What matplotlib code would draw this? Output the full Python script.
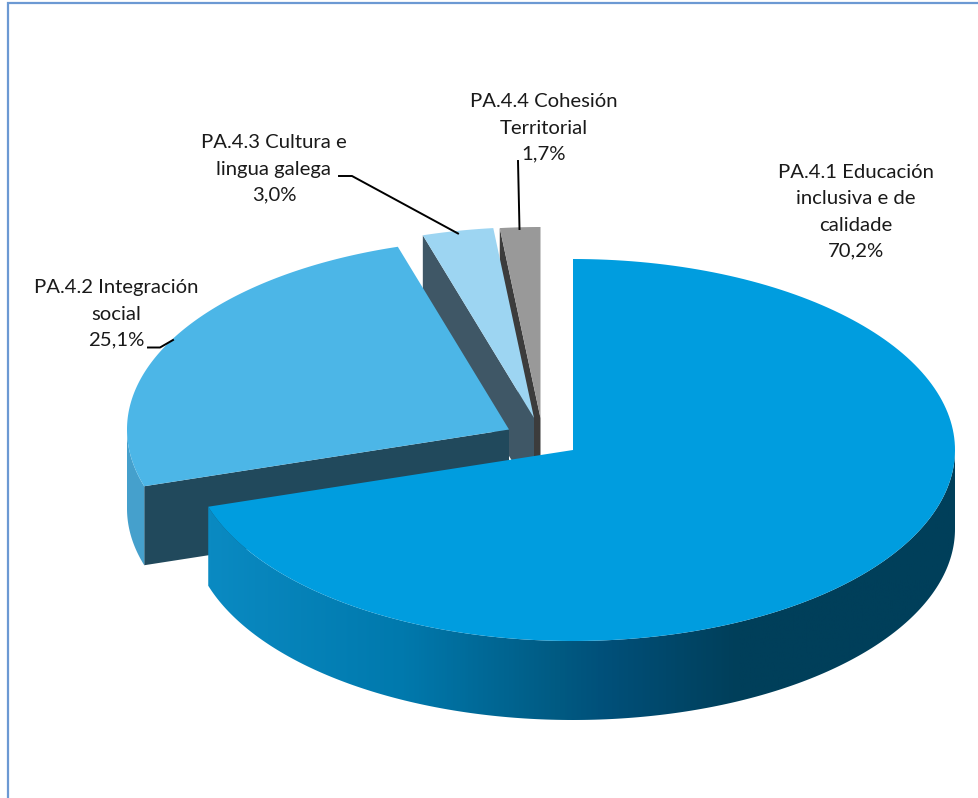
import matplotlib
matplotlib.use('Agg')
import matplotlib.pyplot as plt
import numpy as np
from matplotlib.colors import LinearSegmentedColormap
from matplotlib.patches import Polygon

plt.rcParams['font.family'] = ['Lato', 'DejaVu Sans']

# datos
names = ['PA.4.1 Educación\ninclusiva e de\ncalidade', 'PA.4.2 Integración\nsocial',
         'PA.4.3 Cultura e\nlingua galega', 'PA.4.4 Cohesión\nTerritorial']
values = [70.2, 25.1, 3.0, 1.7]
pct_labels = ['70,2%', '25,1%', '3,0%', '1,7%']

# estilo
top_colors = ['#009ddf', '#4cb6e7', '#9dd5f2', '#999999']
face_colors = ['#0a88c0', '#21495c', '#3f5766', '#3c3c3c']
apex_x = [573, 509, 534, 540.5]
apex_y = [450, 429.5, 418, 418]
label_x = [856, 116, 274, 544]
label_y = [212, 314, 169, 128]
RX = 382
RY = 191
DEPTH = 79


def edge(cx, cy, ang):
    ang = np.radians(ang)
    return cx + RX * np.sin(ang), cy - RY * np.cos(ang)


def top_poly(cx, cy, a0, a1):
    t = np.linspace(a0, a1, 200)
    x, y = edge(cx, cy, t)
    return np.column_stack([np.r_[cx, x], np.r_[cy, y]])


def side_poly(cx, cy, a0, a1):
    t = np.linspace(a0, a1, 200)
    x, y = edge(cx, cy, t)
    return np.column_stack([np.r_[x, x[::-1]], np.r_[y, y[::-1] + DEPTH]])


def cut_poly(cx, cy, a):
    x, y = edge(cx, cy, a)
    return [(cx, cy), (x, y), (x, y + DEPTH), (cx, cy + DEPTH)]


fig = plt.figure(figsize=(9.79, 7.98), dpi=100)
ax = fig.add_axes([0, 0, 1, 1])

# marco
ax.plot([8.5, 8.5, 979], [798, 3, 3], color='#6c99d3', lw=1.6, solid_joinstyle='miter', zorder=1)

ends = np.cumsum(values) / np.sum(values) * 360
starts = np.r_[0, ends[:-1]]

# de atras hacia adelante
for i in [3, 2, 1]:
    z = 10 + (3 - i) * 3
    ax.add_patch(Polygon(cut_poly(apex_x[i], apex_y[i], starts[i]), fc=face_colors[i], ec='none', zorder=z))
    if starts[i] < 270:
        ax.add_patch(Polygon(side_poly(apex_x[i], apex_y[i], starts[i], 270), fc='#45a0cc', ec='none', zorder=z))
    ax.add_patch(Polygon(top_poly(apex_x[i], apex_y[i], starts[i], ends[i]), fc=top_colors[i], ec='none', zorder=z + 1))

# sector principal, pared con degradado
wall_cmap = LinearSegmentedColormap.from_list('wall', [
    (0.0, '#0a8ac2'), (0.26, '#0079ad'), (0.47, '#005a82'),
    (0.53, '#00507a'), (0.71, '#003f5a'), (1.0, '#003f5a')])
wall = Polygon(side_poly(apex_x[0], apex_y[0], 90, ends[0]), fc='none', ec='none', transform=ax.transData)
ax.add_patch(wall)
im = ax.imshow(np.linspace(0, 1, 400).reshape(1, -1), cmap=wall_cmap, aspect='auto',
               extent=(208, 955, 725, 440), zorder=30)
im.set_clip_path(wall)
ax.add_patch(Polygon(top_poly(apex_x[0], apex_y[0], 0, ends[0]), fc=top_colors[0], ec='none', zorder=31))

# lineas guia
ax.plot([339, 352, 458], [176, 176, 233.5], color='black', lw=1.4, zorder=40)
ax.plot([148, 160, 173], [347.5, 347.5, 340], color='black', lw=1.4, zorder=40)
ax.plot([518, 519.5], [161, 229], color='black', lw=1.4, zorder=40)

# etiquetas
for name, pct, x, y in zip(names, pct_labels, label_x, label_y):
    ax.text(x, y, name + '\n' + pct, ha='center', va='center', fontsize=14.6, linespacing=1.65,
            color='#1a1a1a', zorder=50)

ax.set_xlim(0, 979)
ax.set_ylim(798, 0)
ax.axis('off')
fig.savefig('out.png', dpi=100, facecolor='white')
